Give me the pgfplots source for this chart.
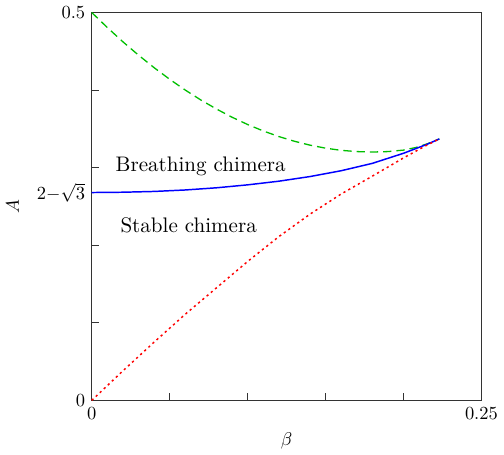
\documentclass[border=0pt]{standalone}
\usepackage{pgfplots}
\pgfplotsset{compat=1.18}
\definecolor{mygreen}{rgb}{0,0.75,0}
\begin{document}
\begin{tikzpicture}
\begin{axis}[
  scale only axis,
  width=211pt, height=210pt,
  xmin=0, xmax=0.25, ymin=0, ymax=0.5,
  xtick={0,0.05,0.1,0.15,0.2,0.25},
  xticklabels={0,,,,,0.25},
  ytick={0,0.1,0.2,0.3,0.4,0.5},
  yticklabels={0,,,,,0.5},
  extra y ticks={0.267949},
  extra y tick labels={$2{-}\sqrt{3}$},
  tick pos=left,
  tick align=inside,
  major tick length=4pt,
  axis line style={black!80, line width=0.8pt},
  every tick/.style={black!80, line width=0.6pt},
  xlabel={$\beta$},
  ylabel={$A$},
  ylabel style={yshift=3pt},
  clip=false,
]
\addplot[mygreen, line width=0.7pt, dash pattern=on 4.5pt off 2.7pt] coordinates {
(0.000,0.5000) (0.010,0.4806) (0.020,0.4622) (0.030,0.4450) (0.040,0.4289)
(0.050,0.4139) (0.060,0.4000) (0.070,0.3872) (0.080,0.3756) (0.090,0.3650)
(0.100,0.3556) (0.110,0.3473) (0.120,0.3401) (0.130,0.3340) (0.140,0.3290)
(0.150,0.3251) (0.160,0.3223) (0.170,0.3207) (0.180,0.3201) (0.190,0.3207)
(0.200,0.3226) (0.208,0.3260) (0.215,0.3305) (0.223,0.3370)
};
\addplot[blue, line width=0.8pt] coordinates {
(0.000,0.2679) (0.020,0.2683) (0.040,0.2693) (0.060,0.2712) (0.080,0.2740)
(0.100,0.2778) (0.120,0.2825) (0.140,0.2885) (0.160,0.2960) (0.180,0.3055)
(0.200,0.3185) (0.215,0.3300) (0.223,0.3370)
};
\addplot[red, line width=0.8pt, dash pattern=on 1.2pt off 1.8pt] coordinates {
(0.000,0.000) (0.020,0.038) (0.040,0.075) (0.060,0.111) (0.080,0.145)
(0.100,0.179) (0.120,0.211) (0.140,0.240) (0.160,0.266) (0.180,0.289)
(0.200,0.3125) (0.215,0.329) (0.223,0.337)
};
\node[scale=1.14] at (axis cs:0.0699,0.302) {Breathing chimera};
\node[scale=1.14] at (axis cs:0.0622,0.226) {Stable chimera};
\end{axis}
\end{tikzpicture}
\end{document}
